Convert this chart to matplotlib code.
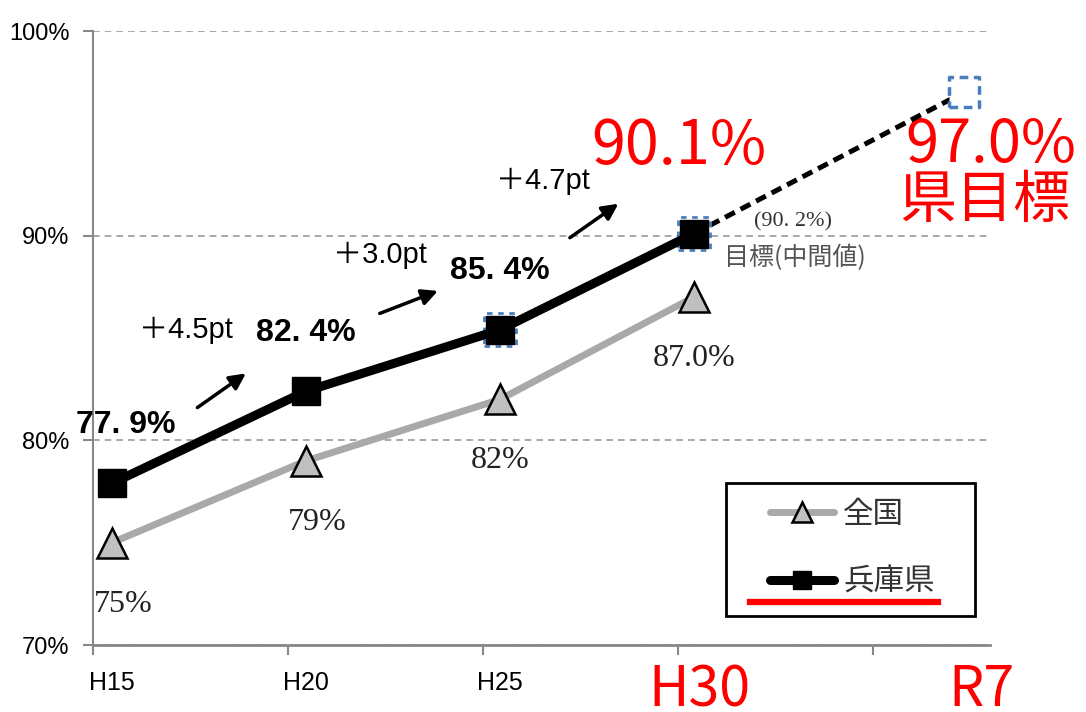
import matplotlib
matplotlib.use('Agg')
import matplotlib.pyplot as plt
from matplotlib.lines import Line2D
from matplotlib.patches import Rectangle
from matplotlib.ticker import FixedLocator

# data
years = ['H15', 'H20', 'H25', 'H30', 'R7']
x_pos = [0, 1, 2, 3, 4.39]
zenkoku = [75, 79, 82, 87.0]
hyogo = [77.9, 82.4, 85.4, 90.1]
target_r7 = 97.0
zenkoku_labels = ['75%', '79%', '82%', '87.0%']
hyogo_labels = ['77. 9%', '82. 4%', '85. 4%']
gains = ['＋4.5pt', '＋3.0pt', '＋4.7pt']
y_ticks = [70, 80, 90, 100]

NARROW = ['Liberation Sans Narrow', 'Liberation Sans', 'DejaVu Sans']
SANS = ['Liberation Sans', 'Noto Sans CJK JP']
SERIF = ['Liberation Serif', 'Noto Sans CJK JP']
JP = ['Noto Sans CJK JP', 'DejaVu Sans']

fig = plt.figure(figsize=(10.86, 7.12), dpi=100)
ax = fig.add_axes([93/1086, 67/712, (987-93)/1086, (645-31)/712])
ax.set_xlim(-0.098, 4.51)
ax.set_ylim(70, 100)

# grid + axes
ax.set_yticks(y_ticks)
ax.set_yticklabels([f'{v}%' for v in y_ticks], family=NARROW, fontsize=17)
ax.yaxis.grid(True, color='#9a9a9a', linestyle=(0, (4, 3)), linewidth=1.2)
ax.set_axisbelow(True)
ax.tick_params(axis='y', length=7, width=1.5, color='#888888', pad=10)
for s in ['top', 'right']:
    ax.spines[s].set_visible(False)
ax.spines['left'].set_color('#888888')
ax.spines['left'].set_linewidth(1.5)
ax.spines['bottom'].set_color('#888888')
ax.spines['bottom'].set_linewidth(2)
ax.spines['bottom'].set_bounds(-0.098, 4.526)

label_pos = [0, 1, 2, 3.03, 4.48]
ax.set_xticks(label_pos)
ax.set_xticklabels(years)
ax.xaxis.set_minor_locator(FixedLocator([-0.098 + 1.005*i for i in range(5)]))
ax.tick_params(axis='x', which='major', length=0, pad=19)
ax.tick_params(axis='x', which='minor', length=7, width=1.5, color='#888888')
for i, lab in enumerate(ax.get_xticklabels()):
    if i < 3:
        lab.set_fontfamily(NARROW)
        lab.set_fontsize(18)
    else:
        lab.set_fontfamily(JP)
        lab.set_fontsize(40)
        lab.set_color('red')
for i, t in enumerate(ax.xaxis.get_major_ticks()):
    if i >= 3:
        t.set_pad(12)

# lines
l_zen, = ax.plot(x_pos[:4], zenkoku, color='#a9a9a9', lw=5, marker='^', ms=22,
                 mfc='#c0c0c0', mec='black', mew=1.8, solid_capstyle='round', zorder=3,
                 label='全国')
ax.plot([x_pos[3], x_pos[4]], [hyogo[3], target_r7], color='black', lw=3.6,
        linestyle=(0, (2.2, 1.3)), zorder=4)
ax.scatter([x_pos[2], x_pos[3]], [hyogo[2], hyogo[3]], s=560, marker='s', facecolor='none',
           edgecolor='#4a7ebb', linewidths=2, linestyles=(0, (2, 2)), zorder=4)
l_hyo, = ax.plot(x_pos[:4], hyogo, color='black', lw=6.5, marker='s', ms=20,
                 mfc='black', mec='black', solid_capstyle='round', zorder=5, label='兵庫県')
ax.scatter([x_pos[4]], [target_r7], s=470, marker='s', facecolor='white',
           edgecolor='#4a7ebb', linewidths=2.5, linestyles=(0, (2.5, 1.6)), zorder=5)

# value labels
dx_zen = [0.06, 0.06, 0, 0]
for x, v, t, d in zip(x_pos, zenkoku, zenkoku_labels, dx_zen):
    ax.text(x + d, v - 3, t, family=SERIF, fontsize=23, color='#222222',
            ha='center', va='center')
dx_hyo = [0.07, 0, 0]
for x, v, t, d in zip(x_pos, hyogo, hyogo_labels, dx_hyo):
    ax.text(x + d, v + 2.85, t, family=NARROW, fontsize=23, fontweight='bold',
            color='black', ha='center', va='center')

# gains + arrows
gain_xy = [(0.38, 85.4), (1.38, 89.07), (2.22, 92.68)]
arrows = [((0.44, 81.6), (0.69, 83.27)), ((1.38, 86.2), (1.68, 87.3)),
          ((2.36, 89.9), (2.61, 91.56))]
for t, (gx, gy), (a0, a1) in zip(gains, gain_xy, arrows):
    ax.text(gx, gy, t, family=SANS, fontsize=21, ha='center', va='center')
    ax.annotate('', xy=a1, xytext=a0,
                arrowprops=dict(arrowstyle='-|>', color='black', lw=2.5,
                                mutation_scale=24, shrinkA=0, shrinkB=0))

# red callouts
ax.text(2.92, 94.35, '90.1%', family=JP, fontsize=44, color='red', ha='center', va='center')
ax.text(4.53, 94.4, '97.0%', family=JP, fontsize=43, color='red', ha='center', va='center',
        clip_on=False)
ax.text(4.50, 91.7, '県目標', family=JP, fontsize=41, color='red', ha='center', va='center',
        clip_on=False)
ax.text(3.51, 90.68, '(90. 2%)', family=SERIF, fontsize=16, color='#333333',
        ha='center', va='center')
ax.text(3.52, 88.93, '目標(中間値)', family=JP, fontsize=18, color='#555555',
        ha='center', va='center')

# legend
leg = ax.legend(handles=[l_zen, l_hyo], loc='center', bbox_to_anchor=(852/1086, (712-548)/712),
                bbox_transform=fig.transFigure, frameon=False, markerscale=0.67,
                handlelength=2.1, handletextpad=0.3, labelspacing=1.2,
                prop={'family': JP, 'size': 22})
for txt in leg.get_texts():
    txt.set_color('#333333')
fig.add_artist(Rectangle((726/1086, (712-616)/712), (975-726)/1086, (616-483)/712,
                         transform=fig.transFigure, fill=False, ec='black', lw=2))
fig.add_artist(Line2D([750/1086, 938/1086], [(712-602)/712]*2, transform=fig.transFigure,
                      color='red', lw=4.5))

fig.savefig('out.png', dpi=100)
